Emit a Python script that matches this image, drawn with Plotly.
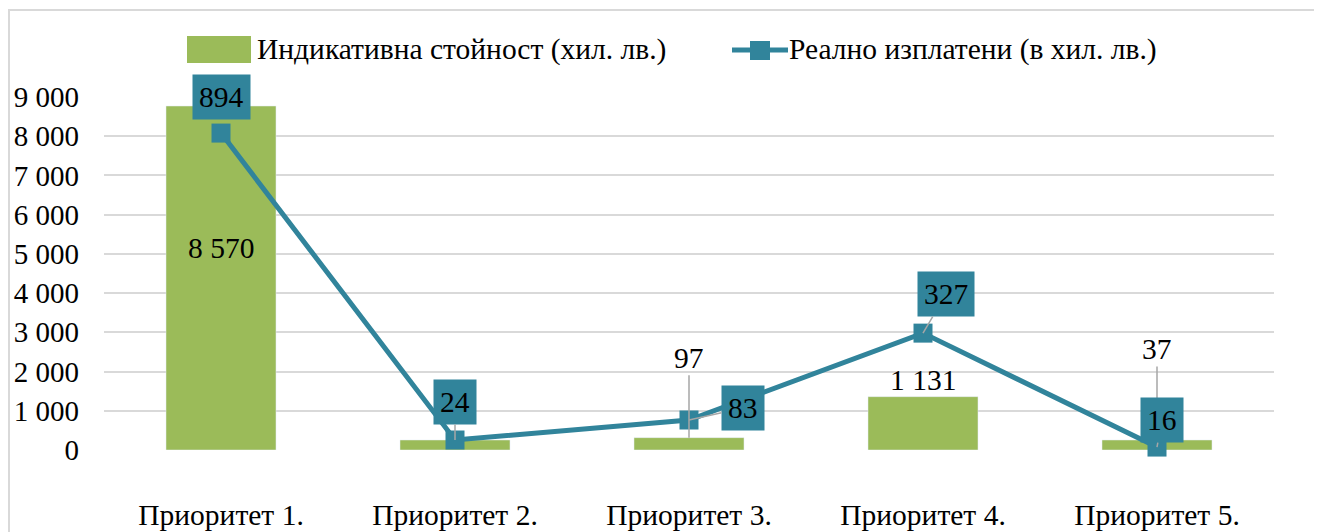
import plotly.graph_objects as go

categories = ["Приоритет 1.", "Приоритет 2.", "Приоритет 3.", "Приоритет 4.", "Приоритет 5."]
indicative = [8770, 255, 315, 1360, 255]
paid = [8080, 255, 765, 2980, 75]
indicative_labels = ["8 570", "", "97", "1 131", "37"]
paid_labels = ["894", "24", "83", "327", "16"]
y_ticks = [0, 1000, 2000, 3000, 4000, 5000, 6000, 7000, 8000, 9000]
y_tick_text = ["0", "1 000", "2 000", "3 000", "4 000", "5 000", "6 000", "7 000", "8 000", "9 000"]

GREEN = "#9BBB59"
TEAL = "#31849B"
GRID = "#D9D9D9"
FONT = "Liberation Serif, Times New Roman, serif"
FS = 29.5

# the page body adds an 8px margin, so layout is worked out in page pixels
OFF = 8
W, H = 1322, 532
PLOT_L, PLOT_R, PLOT_T, PLOT_B = 104, 1274, 97, 450
L, T = PLOT_L - OFF, PLOT_T - OFF
R = W - (PLOT_R - OFF)
B = H - (PLOT_B - OFF)
PW, PH = PLOT_R - PLOT_L, PLOT_B - PLOT_T


def px_x(px):
    return (px - PLOT_L) / PW


def px_y(py):
    return (PLOT_B - py) / PH


fig = go.Figure()
fig.add_trace(go.Bar(x=categories, y=indicative, marker_color=GREEN, width=0.47,
                     showlegend=False, hoverinfo="skip"))
fig.add_trace(go.Scatter(x=categories, y=paid, mode="lines+markers",
                         line=dict(color=TEAL, width=5),
                         marker=dict(symbol="square", size=19, color=TEAL),
                         cliponaxis=False, showlegend=False))

# label offsets in pixels (ax, ay) and whether a leader line is drawn
bar_offsets = [(0, -30, False), (0, 0, False), (0, -80, True), (0, -17, False), (0, -91, True)]
paid_offsets = [(0, -36, False), (0, -38, True), (54, -12, True), (23, -39, True), (5, -27, True)]

for i, cat in enumerate(categories):
    txt = indicative_labels[i]
    if not txt:
        continue
    ax, ay, arrow = bar_offsets[i]
    y = indicative[i] / 2 if i == 0 else indicative[i]
    fig.add_annotation(x=cat, y=y, text=txt, showarrow=arrow, ax=ax, ay=ay,
                       yshift=0 if arrow else -ay, arrowhead=0, arrowwidth=1.5,
                       arrowcolor="#A6A6A6", font=dict(family=FONT, size=FS, color="black"))

for i, cat in enumerate(categories):
    ax, ay, arrow = paid_offsets[i]
    fig.add_annotation(x=cat, y=paid[i], text=paid_labels[i], showarrow=True,
                       ax=ax, ay=ay, arrowhead=0, arrowwidth=1.5,
                       arrowcolor="#A6A6A6" if arrow else "rgba(0,0,0,0)",
                       bgcolor=TEAL, borderpad=6,
                       font=dict(family=FONT, size=FS, color="black"))

# legend drawn by hand so the keys match the original sizes
fig.add_shape(type="rect", xref="paper", yref="paper",
              x0=px_x(187), x1=px_x(251), y0=px_y(63), y1=px_y(36),
              fillcolor=GREEN, line_width=0)
fig.add_annotation(xref="paper", yref="paper", x=px_x(255), y=px_y(50), text="Индикативна стойност (хил. лв.)",
                   showarrow=False, xanchor="left", yanchor="middle",
                   font=dict(family=FONT, size=FS, color="black"))
fig.add_shape(type="line", xref="paper", yref="paper",
              x0=px_x(732), x1=px_x(788), y0=px_y(50), y1=px_y(50),
              line=dict(color=TEAL, width=5))
fig.add_shape(type="rect", xref="paper", yref="paper",
              x0=px_x(750), x1=px_x(770), y0=px_y(60), y1=px_y(41),
              fillcolor=TEAL, line_width=0)
fig.add_annotation(xref="paper", yref="paper", x=px_x(787), y=px_y(50), text="Реално изплатени (в хил. лв.)",
                   showarrow=False, xanchor="left", yanchor="middle",
                   font=dict(family=FONT, size=FS, color="black"))

# chart frame
fig.add_shape(type="rect", xref="paper", yref="paper",
              x0=px_x(9), x1=px_x(1340), y0=px_y(560), y1=px_y(10),
              line=dict(color="#D9D9D9", width=2), fillcolor="rgba(0,0,0,0)", layer="below")

fig.update_layout(
    width=W, height=H,
    margin=dict(l=L, r=R, t=T, b=B),
    paper_bgcolor="white", plot_bgcolor="white",
    font=dict(family=FONT, size=FS, color="black"),
    showlegend=False,
)
fig.update_xaxes(showgrid=False, showline=False, zeroline=False, ticks="", automargin=False,
                 ticklabelstandoff=44, tickfont=dict(family=FONT, size=FS))
fig.update_yaxes(range=[0, 9000], tickvals=y_ticks, ticktext=y_tick_text,
                 showgrid=True, gridcolor=GRID, gridwidth=2, zeroline=False, automargin=False,
                 showline=False, ticks="", ticklabelstandoff=24,
                 tickfont=dict(family=FONT, size=29))

fig.write_html("out.html")
